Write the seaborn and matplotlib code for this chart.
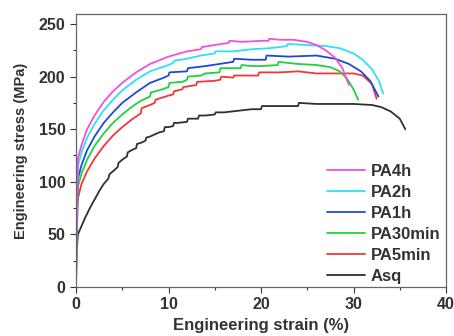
import numpy as np
import pandas as pd
import matplotlib
matplotlib.use("Agg")
import matplotlib.pyplot as plt
from matplotlib.ticker import MultipleLocator
import seaborn as sns

sns.set_theme(style="ticks")
plt.rcParams['font.family'] = ['Liberation Sans', 'DejaVu Sans']

series_names = ["PA4h", "PA2h", "PA1h", "PA30min", "PA5min", "Asq"]
colors = ["#f050e0", "#30e0f0", "#2048d8", "#20d040", "#f03838", "#303030"]

strain_pa4h = [0, 0.05, 0.2, 0.6, 1.2, 2, 3, 4, 5, 6.5, 8, 10, 12, 13.5, 13.6, 15, 16.5, 16.6, 18, 20, 20.8, 20.9, 22, 23.5, 25, 26, 27, 28, 28.8, 29.5]
stress_pa4h = [0, 60, 122, 135, 150, 163, 176, 186, 194, 204, 212, 219, 224, 226, 228, 230, 232, 234, 233, 234, 234, 236, 235, 235, 233, 230, 225, 218, 208, 192]

strain_pa2h = [0, 0.05, 0.2, 0.6, 1.2, 2, 3, 4, 5, 6.5, 8, 10, 10.5, 10.6, 12, 13.5, 15, 15.1, 17, 19, 21, 22.8, 22.9, 25, 27, 28.5, 30, 31, 32, 32.8, 33.2]
stress_pa2h = [0, 55, 115, 128, 142, 155, 168, 178, 187, 197, 205, 211, 213, 215, 217, 220, 222, 224, 224, 226, 227, 229, 231, 230, 229, 227, 222, 216, 207, 195, 184]

strain_pa1h = [0, 0.05, 0.2, 0.6, 1.2, 2, 3, 4, 5, 6.5, 8, 9.5, 10, 10.1, 12, 12.1, 14, 15.5, 17, 17.1, 19, 20.5, 20.6, 23, 26, 28, 29.5, 30.8, 31.8, 32.7]
stress_pa1h = [0, 50, 103, 116, 130, 143, 156, 166, 175, 185, 194, 199, 201, 204, 205, 208, 210, 212, 214, 217, 216, 216, 220, 219, 220, 217, 212, 205, 196, 181]

strain_pa30 = [0, 0.05, 0.2, 0.6, 1.2, 2, 3, 4, 5, 6, 7, 8, 8.1, 9, 10, 10.1, 11.5, 12, 12.1, 13.5, 14, 15.5, 15.6, 17, 17.8, 17.9, 19, 20, 21.8, 21.9, 24, 26, 27.5, 28.5, 29.3, 30, 30.5]
stress_pa30 = [0, 45, 95, 108, 121, 134, 146, 156, 164, 171, 177, 181, 185, 187, 190, 194, 195, 197, 200, 201, 203, 204, 208, 208, 208, 211, 210, 210, 211, 214, 212, 211, 209, 205, 198, 188, 178]

strain_pa5 = [0, 0.05, 0.2, 0.6, 1.2, 2, 3, 4, 5, 6, 7, 7.1, 8, 8.5, 8.6, 10, 10.5, 10.6, 11.5, 11.6, 13, 13.1, 15, 15.6, 15.7, 17, 17.1, 19, 19.7, 19.8, 22, 24, 26, 28, 30, 31, 32, 32.5]
stress_pa5 = [0, 40, 84, 98, 110, 122, 134, 144, 152, 159, 165, 170, 173, 175, 178, 182, 183, 186, 188, 190, 192, 195, 196, 197, 200, 199, 201, 201, 201, 204, 204, 205, 203, 203, 203, 201, 193, 179]

strain_asq = [0, 0.05, 0.2, 0.6, 1, 1.5, 2, 2.5, 3, 3.5, 3.6, 4, 4.5, 4.6, 5, 5.5, 5.6, 6, 6.5, 6.6, 7, 7.5, 7.6, 8, 8.5, 9, 9.5, 9.6, 10, 10.5, 10.6, 11, 12, 12.1, 13, 13.2, 13.3, 14, 15, 15.1, 16, 17, 18, 19, 20, 20.1, 22, 24, 24.1, 26, 28, 30, 32, 33, 34, 35, 35.6]
stress_asq = [0, 30, 50, 58, 66, 75, 83, 91, 98, 103, 107, 110, 114, 118, 121, 124, 128, 130, 132, 136, 137, 139, 142, 143, 145, 147, 148, 152, 152, 153, 156, 156, 157, 160, 160, 160, 163, 163, 164, 166, 166, 167, 168, 169, 169, 172, 172, 172, 175, 174, 174, 174, 173, 171, 167, 160, 150]

all_strain = [strain_pa4h, strain_pa2h, strain_pa1h, strain_pa30, strain_pa5, strain_asq]
all_stress = [stress_pa4h, stress_pa2h, stress_pa1h, stress_pa30, stress_pa5, stress_asq]

frames = []
for name, xs, ys in zip(series_names, all_strain, all_stress):
    frames.append(pd.DataFrame({"strain": xs, "stress": ys, "sample": name,
                                "order": np.arange(len(xs))}))
df = pd.concat(frames, ignore_index=True)

fig = plt.figure(figsize=(4.54, 3.36), dpi=100)
ax = fig.add_axes([76/454, 1 - 287/336, 370/454, 273/336])

draw_order = series_names[::-1]
for name in draw_order:
    sub = df[df["sample"] == name]
    sns.lineplot(data=sub, x="strain", y="stress", ax=ax, sort=False,
                 color=colors[series_names.index(name)], linewidth=1.3,
                 estimator=None, label=name)

ax.set_xlim(0, 40)
ax.set_ylim(0, 259.5)
ax.xaxis.set_major_locator(MultipleLocator(10))
ax.xaxis.set_minor_locator(MultipleLocator(5))
ax.yaxis.set_major_locator(MultipleLocator(50))
ax.yaxis.set_minor_locator(MultipleLocator(25))
ax.tick_params(which="major", direction="out", length=4, width=0.8, labelsize=11.5, colors="#333333")
ax.tick_params(which="minor", direction="out", length=2.5, width=0.8, colors="#333333")
for lab in ax.get_xticklabels() + ax.get_yticklabels():
    lab.set_fontweight("bold")
for sp in ax.spines.values():
    sp.set_color("#666666")
    sp.set_linewidth(0.9)

ax.set_xlabel("Engineering strain (%)", fontsize=12, fontweight="bold", color="#333333", labelpad=4)
ax.set_ylabel("Engineering stress (MPa)", fontsize=10.5, fontweight="bold", color="#333333", labelpad=8)

handles, labels = ax.get_legend_handles_labels()
hmap = dict(zip(labels, handles))
leg = ax.legend([hmap[n] for n in series_names], series_names, loc="lower right",
                frameon=False, prop={"weight": "bold", "size": 12},
                handlelength=2.3, handletextpad=0.35, labelspacing=0.36,
                borderaxespad=0.1, bbox_to_anchor=(1.008, -0.02))
for t in leg.get_texts():
    t.set_color("#333333")

fig.savefig("out.png", dpi=100)
